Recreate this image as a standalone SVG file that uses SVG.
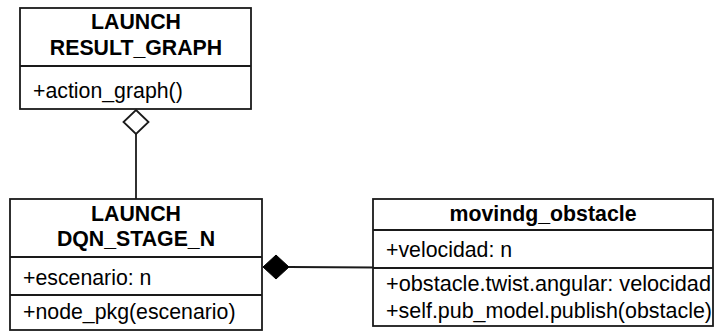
<svg xmlns="http://www.w3.org/2000/svg" width="717" height="331" viewBox="0 0 717 331">
  <style>
    .box { fill: #ffffff; stroke: #1a1a1a; stroke-width: 1.8; }
    .sep { stroke: #1a1a1a; stroke-width: 1.8; fill: none; }
    .edge { stroke: #1a1a1a; stroke-width: 1.8; fill: none; }
    .title { font-family: "Liberation Sans", Arial, sans-serif; font-size: 21.3px; font-weight: bold; fill: #000; text-anchor: middle; }
    .member { font-family: "Liberation Sans", Arial, sans-serif; font-size: 21.3px; fill: #000; }
  </style>
  <rect width="717" height="331" fill="#ffffff"/>

  <!-- connectors -->
  <g id="connectors">
    <!-- aggregation: DQN_STAGE_N to RESULT_GRAPH -->
    <line class="edge" x1="136" y1="134" x2="136" y2="199"/>
    <polygon points="136,110 148.5,122 136,134 123.5,122" fill="#ffffff" stroke="#1a1a1a" stroke-width="1.8"/>
    <!-- composition: movindg_obstacle to DQN_STAGE_N -->
    <line class="edge" x1="289" y1="267" x2="376" y2="267.5"/>
    <polygon points="263,267 276,255 289,267 276,279" fill="#000000" stroke="#000000" stroke-width="1"/>
  </g>

  <!-- class LAUNCH RESULT_GRAPH -->
  <g id="result_graph">
    <rect class="box" x="20" y="8" width="231" height="101"/>
    <line class="sep" x1="20" y1="66" x2="251" y2="66"/>
    <text class="title" x="136" y="29">LAUNCH</text>
    <text class="title" x="136" y="55">RESULT_GRAPH</text>
    <text class="member" x="33" y="98">+action_graph()</text>
  </g>

  <!-- class LAUNCH DQN_STAGE_N -->
  <g id="dqn_stage_n">
    <rect class="box" x="10" y="199" width="252" height="131"/>
    <line class="sep" x1="10" y1="257" x2="262" y2="257"/>
    <line class="sep" x1="10" y1="295" x2="262" y2="295"/>
    <text class="title" x="136" y="221">LAUNCH</text>
    <text class="title" x="136" y="246">DQN_STAGE_N</text>
    <text class="member" x="23" y="285">+escenario: n</text>
    <text class="member" x="23" y="319">+node_pkg(escenario)</text>
  </g>

  <!-- class movindg_obstacle -->
  <g id="movindg_obstacle">
    <rect class="box" x="373" y="199" width="340" height="127"/>
    <line class="sep" x1="373" y1="230" x2="713" y2="230"/>
    <line class="sep" x1="373" y1="268" x2="713" y2="268"/>
    <text class="title" x="543" y="221">movindg_obstacle</text>
    <text class="member" x="386" y="257">+velocidad: n</text>
    <text class="member" x="386" y="291" textLength="325" lengthAdjust="spacingAndGlyphs">+obstacle.twist.angular: velocidad</text>
    <text class="member" x="386" y="318" textLength="326" lengthAdjust="spacingAndGlyphs">+self.pub_model.publish(obstacle)</text>
  </g>
</svg>
